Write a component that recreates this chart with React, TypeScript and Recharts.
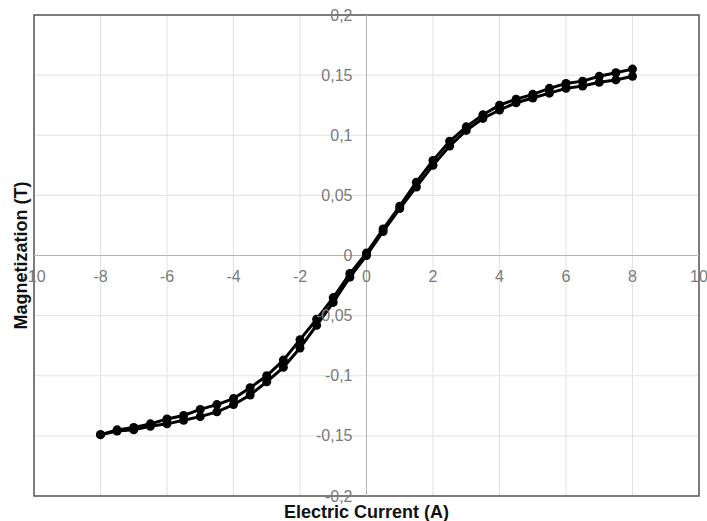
import React from "react"
import {
  ScatterChart,
  Scatter,
  XAxis,
  YAxis,
  CartesianGrid,
  ReferenceLine,
  ReferenceArea,
} from "recharts"

// current steps (A), shared by both branches
const currentDown = [8, 7.5, 7, 6.5, 6, 5.5, 5, 4.5, 4, 3.5, 3, 2.5, 2, 1.5, 1, 0.5, 0, -0.5, -1, -1.5, -2, -2.5, -3, -3.5, -4, -4.5, -5, -5.5, -6, -6.5, -7, -7.5, -8]
const magnetDown = [0.155, 0.152, 0.149, 0.145, 0.143, 0.139, 0.134, 0.130, 0.125, 0.117, 0.107, 0.095, 0.079, 0.061, 0.041, 0.022, 0.002, -0.015, -0.035, -0.053, -0.070, -0.087, -0.100, -0.110, -0.119, -0.124, -0.128, -0.133, -0.136, -0.140, -0.143, -0.145, -0.149]

const currentUp = [-8, -7.5, -7, -6.5, -6, -5.5, -5, -4.5, -4, -3.5, -3, -2.5, -2, -1.5, -1, -0.5, 0, 0.5, 1, 1.5, 2, 2.5, 3, 3.5, 4, 4.5, 5, 5.5, 6, 6.5, 7, 7.5, 8]
const magnetUp = [-0.149, -0.146, -0.145, -0.142, -0.140, -0.137, -0.134, -0.130, -0.124, -0.116, -0.105, -0.093, -0.077, -0.058, -0.039, -0.018, 0.0, 0.020, 0.039, 0.057, 0.075, 0.091, 0.104, 0.114, 0.121, 0.127, 0.131, 0.135, 0.139, 0.141, 0.144, 0.146, 0.149]

const xTicks = [-10, -8, -6, -4, -2, 0, 2, 4, 6, 8, 10]
const yTicks = [-0.2, -0.15, -0.1, -0.05, 0, 0.05, 0.1, 0.15, 0.2]

const W = 707
const H = 521
const TOP = 15
const RIGHT = 8
const X_AXIS_H = 25
const Y_AXIS_W = 34
const PLOT_W = W - Y_AXIS_W - RIGHT
const PLOT_H = H - TOP - X_AXIS_H

const FONT = '"Liberation Sans", Arial, sans-serif'
const TICK_COLOR = "#7a7a7a"

const downData = currentDown.map((x, i) => ({ x, y: magnetDown[i] }))
const upData = currentUp.map((x, i) => ({ x, y: magnetUp[i] }))

const fmt = (v: number) => String(v).replace(".", ",")

const XTick = ({ x, y, payload }: any) => (
  <text
    x={x}
    y={y - PLOT_H / 2 + 21}
    textAnchor="middle"
    dominantBaseline="central"
    fill={TICK_COLOR}
    fontSize={16}
    fontFamily={FONT}
  >
    {fmt(payload.value)}
  </text>
)

const YTick = ({ x, y, payload }: any) => (
  <text
    x={x + PLOT_W / 2 - 14}
    y={y}
    textAnchor="end"
    dominantBaseline="central"
    fill={TICK_COLOR}
    fontSize={16}
    fontFamily={FONT}
  >
    {fmt(payload.value)}
  </text>
)

const Dot = (props: any) => <circle cx={props.cx} cy={props.cy} r={4.5} fill="#000" />

export default function App() {
  return (
    <div style={{ position: "absolute", left: 0, top: 0, background: "#fff" }}>
      <ScatterChart width={W} height={H} margin={{ top: TOP, right: RIGHT, bottom: 0, left: 0 }}>
        <CartesianGrid stroke="#e2e2e2" strokeWidth={1} />
        <XAxis
          type="number"
          dataKey="x"
          domain={[-10, 10]}
          ticks={xTicks}
          height={X_AXIS_H}
          axisLine={false}
          tickLine={false}
          tickSize={0}
          tickMargin={0}
          tick={<XTick />}
          label={{
            value: "Electric Current (A)",
            position: "insideBottom",
            offset: 3,
            fill: "#111",
            fontSize: 18,
            fontWeight: "bold",
            fontFamily: FONT,
          }}
        />
        <YAxis
          type="number"
          dataKey="y"
          domain={[-0.2, 0.2]}
          ticks={yTicks}
          width={Y_AXIS_W}
          axisLine={false}
          tickLine={false}
          tickSize={0}
          tickMargin={0}
          tick={<YTick />}
          label={{
            value: "Magnetization (T)",
            angle: -90,
            position: "insideLeft",
            offset: 21,
            fill: "#111",
            fontSize: 18,
            fontWeight: "bold",
            fontFamily: FONT,
            style: { textAnchor: "middle" },
          }}
        />
        <ReferenceLine x={0} stroke="#b5b5b5" strokeWidth={1} />
        <ReferenceLine y={0} stroke="#b5b5b5" strokeWidth={1} />
        <ReferenceArea x1={-10} x2={10} y1={-0.2} y2={0.2} fill="none" fillOpacity={0} stroke="#555" strokeWidth={1.5} />
        <Scatter
          data={downData}
          line={{ stroke: "#000", strokeWidth: 3 }}
          shape={<Dot />}
          isAnimationActive={false}
        />
        <Scatter
          data={upData}
          line={{ stroke: "#000", strokeWidth: 3 }}
          shape={<Dot />}
          isAnimationActive={false}
        />
      </ScatterChart>
    </div>
  )
}
